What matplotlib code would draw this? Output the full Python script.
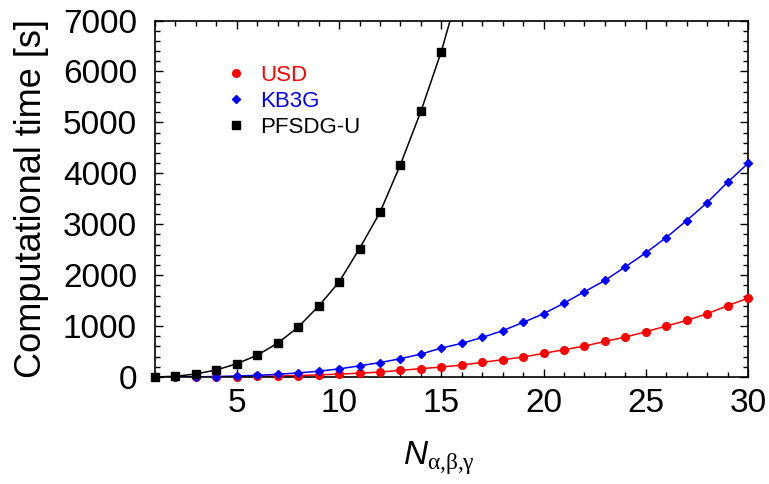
import matplotlib
matplotlib.use("Agg")
import matplotlib.pyplot as plt
import numpy as np
from matplotlib.ticker import MultipleLocator

plt.rcParams["font.family"] = ["Liberation Sans", "DejaVu Sans"]
plt.rcParams["mathtext.fontset"] = "custom"
plt.rcParams["mathtext.it"] = "Liberation Sans:italic"
plt.rcParams["mathtext.rm"] = "Liberation Serif"

# timings per basis size N
n_usd = np.arange(1, 31)
usd = [0.1, 0.5, 2, 4, 7, 12, 20, 29, 42, 57, 76, 98, 131, 165, 196,
       235, 288, 341, 392, 465, 537, 608, 700, 784, 890, 1000, 1112,
       1243, 1400, 1549]

n_kb3g = np.arange(1, 31)
kb3g = [0.2, 1.2, 4, 10, 20, 34, 54, 80, 114, 160, 220, 284, 360, 451,
        569, 661, 778, 910, 1073, 1243, 1451, 1675, 1896, 2165, 2439,
        2739, 3073, 3425, 3824, 4196]

n_pfsdg = np.arange(1, 17)
pfsdg = [2, 15, 60, 140, 260, 430, 665, 980, 1392, 1865, 2523, 3232,
         4170, 5216, 6392, 7800]

series = [
    (n_usd, usd, "o", "red", 5.5, "USD"),
    (n_kb3g, kb3g, "D", "blue", 3.8, "KB3G"),
    (n_pfsdg, pfsdg, "s", "black", 5.8, "PFSDG-U"),
]

fig = plt.figure(figsize=(7.69, 4.84), dpi=100)
ax = fig.add_axes([0.2016, 0.221, 0.7711, 0.7365])

ymax = 7000
handles = []
for x, y, marker, color, ms, label in series:
    x = np.asarray(x)
    y = np.asarray(y, dtype=float)
    ax.plot(x, y, "-", color=color, lw=1.1)
    # markers on the frame stay visible, points above the range are dropped
    keep = y <= ymax
    h, = ax.plot(x[keep], y[keep], ls="none", marker=marker, color=color,
                 ms=ms, clip_on=False, zorder=3, label=label)
    handles.append(h)

ax.set_xlim(1, 30)
ax.set_ylim(0, ymax)
ax.xaxis.set_major_locator(MultipleLocator(5))
ax.xaxis.set_minor_locator(MultipleLocator(1))
ax.yaxis.set_major_locator(MultipleLocator(1000))
ax.yaxis.set_minor_locator(MultipleLocator(200))
ax.tick_params(which="both", direction="in", top=True, right=True,
               width=1)
ax.tick_params(which="major", length=6, labelsize=24)
ax.tick_params(axis="y", which="major", pad=13)
ax.tick_params(axis="x", which="major", pad=8)
ax.tick_params(which="minor", length=3.5)
for s in ax.spines.values():
    s.set_linewidth(1.2)

ax.set_ylabel("Computational time [s]", fontsize=26)
ax.yaxis.set_label_coords(-0.178, 0.5)
ax.set_xlabel(r"$\mathit{N}_{\mathrm{\alpha{,}\beta{,}\gamma}}$",
              fontsize=24)
ax.xaxis.set_label_coords(0.478, -0.175)

ax.legend(handles=handles, loc="upper left", bbox_to_anchor=(0.11, 0.90),
          frameon=False, fontsize=16, labelcolor="linecolor",
          handlelength=0.6, handletextpad=0.8, labelspacing=0.22,
          borderaxespad=0)

fig.savefig("out.png", dpi=100)
